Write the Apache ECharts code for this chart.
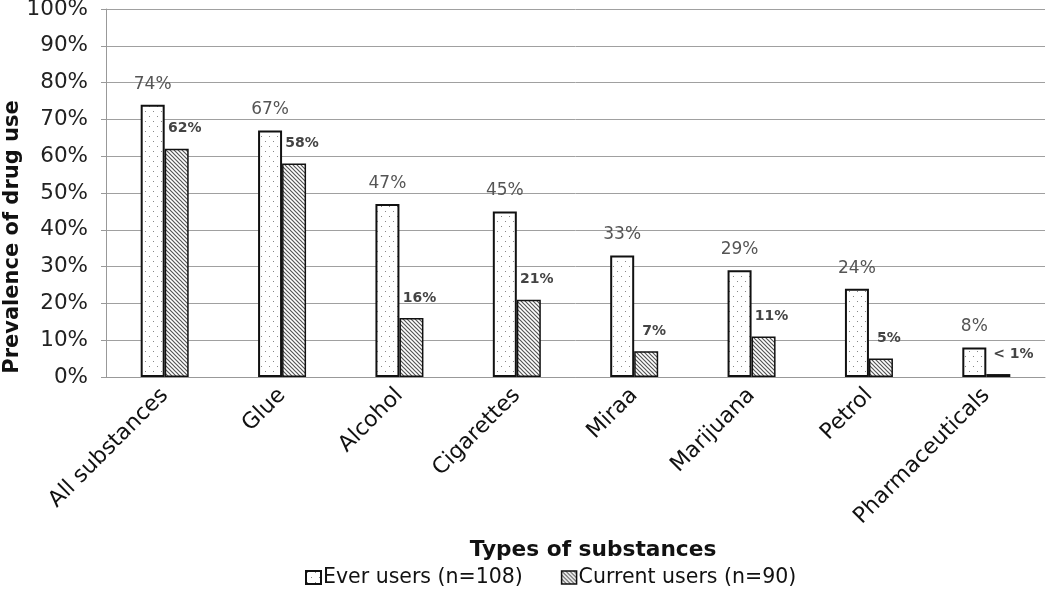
<!DOCTYPE html>
<html>
<head>
<meta charset="utf-8">
<script src="https://cdn.jsdelivr.net/npm/echarts@6/dist/echarts.min.js"></script>
<style>html,body{margin:0;padding:0;background:#fff;}#c{width:1050px;height:594px;}</style>
</head>
<body>
<div id="c"></div>
<script>
var categories = ['All substances','Glue','Alcohol','Cigarettes','Miraa','Marijuana','Petrol','Pharmaceuticals'];
var everUsers = [74,67,47,45,33,29,24,8];
var currentUsers = [62,58,16,21,7,11,5,0.8];
var currentLabels = ['62%','58%','16%','21%','7%','11%','5%','< 1%'];
var yTicks = [0,10,20,30,40,50,60,70,80,90,100];

function dotPattern(){
  var c=document.createElement('canvas'); c.width=8; c.height=10;
  var g=c.getContext('2d'); g.fillStyle='#fff'; g.fillRect(0,0,8,10);
  g.fillStyle='#888'; g.fillRect(1,1,1,1); g.fillRect(5,6,1,1);
  return c;
}
function hatchPattern(){
  var c=document.createElement('canvas'); c.width=4; c.height=4;
  var g=c.getContext('2d'); g.fillStyle='#fff'; g.fillRect(0,0,4,4);
  g.strokeStyle='#555'; g.lineWidth=1.2;
  g.beginPath();
  g.moveTo(-1,-1); g.lineTo(5,5);
  g.moveTo(-1,3); g.lineTo(1,5);
  g.moveTo(3,-1); g.lineTo(5,1);
  g.stroke();
  return c;
}
var dots = {image: dotPattern(), repeat:'repeat'};
var hatch = {image: hatchPattern(), repeat:'repeat'};
var FONT = 'DejaVu Sans';

var chart = echarts.init(document.getElementById('c'));
chart.setOption({
  animation:false,
  backgroundColor:'#fff',
  grid:{left:106,right:5,top:9,bottom:217,containLabel:false,outerBoundsMode:'none'},
  legend:{
    top:562,left:300,itemWidth:15,itemHeight:13,itemGap:38,
    textStyle:{fontFamily:FONT,fontSize:20.5,color:'#111',padding:[0,0,0,-3]},
    data:[
      {name:'Ever users (n=108)',icon:'rect',itemStyle:{color:dots,borderColor:'#111',borderWidth:2}},
      {name:'Current users (n=90)',icon:'rect',itemStyle:{color:hatch,borderColor:'#111',borderWidth:1.5}}
    ]
  },
  graphic:[{
    type:'text',x:13,y:237,rotation:Math.PI/2,
    style:{text:'Prevalence of drug use',fontFamily:FONT,fontWeight:'bold',fontSize:21,fill:'#111',
      align:'center',verticalAlign:'middle'}
  }],
  xAxis:{
    type:'category',data:categories,
    name:'Types of substances',nameLocation:'middle',nameGap:162,
    nameTextStyle:{fontFamily:FONT,fontWeight:'bold',fontSize:21.7,color:'#111',padding:[0,0,0,35]},
    axisLine:{lineStyle:{color:'#999',width:1}},
    axisTick:{show:false},
    axisLabel:{rotate:45,interval:0,margin:15,fontFamily:FONT,fontSize:22,color:'#111'}
  },
  yAxis:{
    type:'value',min:0,max:100,interval:10,
    axisLine:{show:true,lineStyle:{color:'#999',width:1}},
    axisTick:{show:true,length:5,lineStyle:{color:'#999'}},
    splitLine:{lineStyle:{color:'#a0a0a0',width:1}},
    axisLabel:{margin:18,fontFamily:FONT,fontSize:21.5,color:'#222',
      formatter:function(v){return yTicks.indexOf(v)>=0? v+'%':'';}}
  },
  series:[
    {
      name:'Ever users (n=108)',type:'bar',barWidth:24,barGap:'0%',
      data:everUsers,
      itemStyle:{color:dots,borderColor:'#111',borderWidth:2},
      label:{show:true,position:'top',distance:12,fontFamily:FONT,fontSize:17,color:'#555',
        formatter:function(p){return p.value+'%';}}
    },
    {
      name:'Current users (n=90)',type:'bar',barWidth:24,
      data:currentUsers.map(function(v,i){
        return {value:v,label:{offset:[i===currentLabels.length-1?15:8,0]}};
      }),
      itemStyle:{color:hatch,borderColor:'#111',borderWidth:1.5},
      label:{show:true,position:'top',distance:13,fontFamily:FONT,fontSize:14,fontWeight:'bold',color:'#444',
        formatter:function(p){return currentLabels[p.dataIndex];}}
    }
  ]
});
</script>
</body>
</html>
